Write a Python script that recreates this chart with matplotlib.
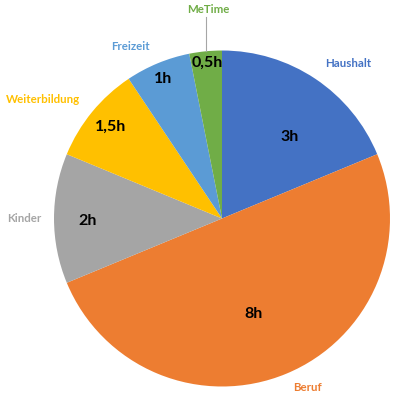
import numpy as np
import matplotlib
matplotlib.use("Agg")
import matplotlib.pyplot as plt

categories = ["Haushalt", "Beruf", "Kinder", "Weiterbildung", "Freizeit", "MeTime"]
hours = [3, 8, 2, 1.5, 1, 0.5]
value_labels = ["3h", "8h", "2h", "1,5h", "1h", "0,5h"]
colors = ["#4472C4", "#ED7D31", "#A5A5A5", "#FFC000", "#5B9BD5", "#70AD47"]

# label placement (angle in degrees, distance in radii), Excel-like layout
name_pos = [(50.9, 1.19), (-63.2, 1.13), (180.0, 1.18), (146.4, 1.28), (118.1, 1.16), (93.8, 1.245)]
value_pos = [(50.0, 0.63), (-72.0, 0.6), (180.9, 0.8), (140.6, 0.86), (113.0, 0.9), (95.5, 0.93)]

W, H = 397, 403
fig = plt.figure(figsize=(W / 100, H / 100), dpi=100)
ax = fig.add_axes([0, 0, 1, 1])

cx, cy, r = 222, H - 218.5, 168
wedges, _ = ax.pie(hours, colors=colors, startangle=90, counterclock=False,
                   center=(cx, cy), radius=r, frame=True)
ax.set_xlim(0, W)
ax.set_ylim(0, H)
ax.set_aspect("equal")
ax.axis("off")

font = ["Lato", "DejaVu Sans"]
for name, col, (ang, dist), vl, (vang, vd) in zip(categories, colors, name_pos,
                                                   value_labels, value_pos):
    a = np.deg2rad(vang)
    ax.text(cx + vd * r * np.cos(a), cy + vd * r * np.sin(a), vl,
            ha="center", va="center", fontsize=11.5, fontweight="bold",
            family=font, color="black")
    a = np.deg2rad(ang)
    ax.text(cx + dist * r * np.cos(a), cy + dist * r * np.sin(a), name,
            ha="center", va="center", fontsize=8.3, fontweight="bold",
            family=font, color=col)

# leader line for the small slice
w = wedges[-1]
mid = np.deg2rad((w.theta1 + w.theta2) / 2)
x0 = cx + r * np.cos(mid)
ax.plot([x0, x0], [cy + r * np.sin(mid), H - 17], color="#A6A6A6", lw=0.8)

fig.savefig("out.png", dpi=100)
